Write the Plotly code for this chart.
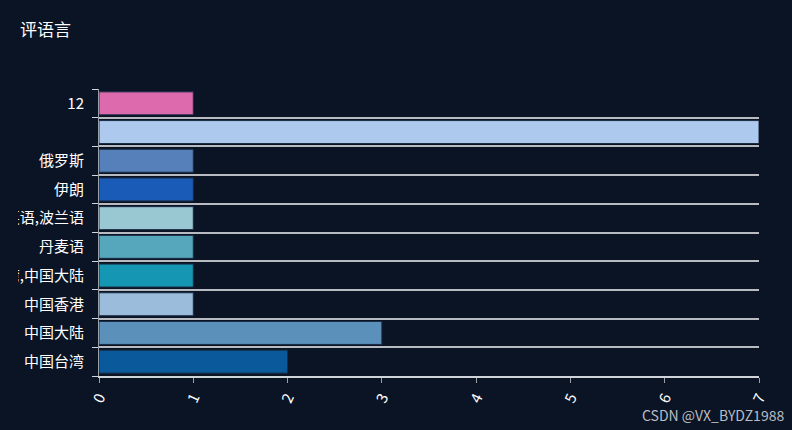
import plotly.graph_objects as go

# Data (bottom to top)
categories = ["中国台湾", "中国大陆", "中国香港", "中国台湾,中国大陆", "丹麦语",
              "英语,波兰语", "伊朗", "俄罗斯", " ", "12"]
values = [2, 3, 1, 1, 1, 1, 1, 1, 7, 1]
bar_colors = ["#0a5a9b", "#5b90ba", "#9bbcda", "#1597b3", "#56a7bb",
              "#99c8d3", "#1b5bb8", "#5580ba", "#adc9ee", "#dd6aad"]
x_ticks = [0, 1, 2, 3, 4, 5, 6, 7]

BG = "#0a1424"
FONT = "Noto Sans CJK SC"

fig = go.Figure()
fig.add_trace(go.Bar(
    x=values, y=categories, orientation="h",
    marker=dict(color=bar_colors, line=dict(color="#1c2c44", width=1)),
    hoverinfo="x+y",
))

fig.update_layout(
    width=792, height=430,
    paper_bgcolor=BG, plot_bgcolor=BG,
    margin=dict(l=99, r=33, t=89, b=54),
    bargap=0.2,
    showlegend=False,
    font=dict(family=FONT, color="#ffffff", size=14),
    title=dict(text="评语言", x=20 / 792, xanchor="left", xref="container",
               y=1 - 30 / 430, yanchor="middle", yref="container",
               font=dict(size=17, color="#ffffff", family=FONT)),
    xaxis=dict(range=[0, 7], tickvals=x_ticks, tickangle=-65,
               showgrid=False, zeroline=False,
               showline=True, linecolor="#d0d3d8", linewidth=2,
               ticks="outside", ticklen=5, tickcolor="#9aa0a8",
               tickfont=dict(size=15, color="#ffffff", family=FONT)),
    yaxis=dict(type="category", categoryorder="array", categoryarray=categories,
               tickson="boundaries", ticks="outside", ticklen=6, tickcolor="#d0d3d8",
               showgrid=True, gridcolor="#b8bcc2", gridwidth=2,
               showline=True, linecolor="#9aa0a8", linewidth=1,
               ticklabelstandoff=11, automargin=False,
               tickfont=dict(size=15, color="#ffffff", family=FONT)),
    shapes=[dict(type="rect", xref="paper", yref="paper",
                 x0=-99 / 660, x1=-81 / 660, y0=-0.3, y1=1.3,
                 fillcolor=BG, line=dict(width=0), layer="above")],
    annotations=[dict(text="CSDN @VX_BYDZ1988", xref="paper", yref="paper",
                      x=(786 - 99) / 660, y=(376 - 415) / 287,
                      xanchor="right", yanchor="middle", showarrow=False,
                      font=dict(size=14, color="#b8bcc4", family=FONT))],
)
fig.update_xaxes(automargin=False)

fig.write_html("out.html",
               config={"displayModeBar": False},
               post_script="document.body.style.margin='0';document.body.style.background='%s';" % BG)
